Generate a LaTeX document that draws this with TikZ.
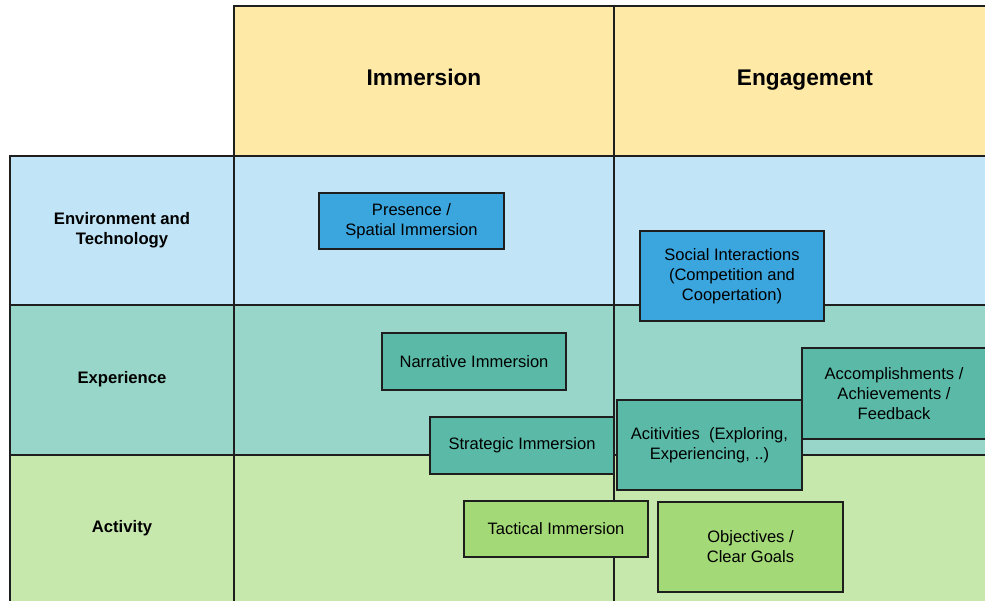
\documentclass[tikz,border=0pt]{standalone}
\usepackage{fontspec}
\setmainfont{Liberation Sans}
\definecolor{hdr}{HTML}{FFE9A6}
\definecolor{envc}{HTML}{C1E4F6}
\definecolor{expc}{HTML}{99D6CA}
\definecolor{actc}{HTML}{C7E8AC}
\definecolor{bblue}{HTML}{3BA5DD}
\definecolor{bteal}{HTML}{5ABAA7}
\definecolor{bgreen}{HTML}{A3D977}
\definecolor{ln}{HTML}{1E1E1E}
\tikzset{
  cell/.style={draw=ln, line width=1pt},
  thin cell/.style={draw=ln, line width=0.8pt},
  hdrtext/.style={font=\fontsize{17}{20}\selectfont\bfseries, text=black, anchor=base},
  rowtext/.style={font=\fontsize{12.5}{15}\selectfont\bfseries, align=center, text=black},
  box/.style={draw=ln, line width=1.4pt, align=center, inner sep=0pt,
    font=\fontsize{12.4}{15}\selectfont, text=black},
  bbox/.style={box, fill=bblue},
  tbox/.style={box, fill=bteal},
  gbox/.style={box, fill=bgreen},
}
\begin{document}
\begin{tikzpicture}[x=0.75pt,y=-0.75pt]
\useasboundingbox (0,0) rectangle (985,600);
\clip (0,0) rectangle (985,600);
% header
\path[cell, fill=hdr] (234,6) rectangle (614,156);
\path[cell, fill=hdr] (614,6) rectangle (1000,156);
\node[hdrtext] (himm) at (424,85) {Immersion};
\node[hdrtext] (heng) at (805,85) {Engagement};
% rows
\path[thin cell, fill=envc] (234,156) rectangle (614,305);
\path[thin cell, fill=envc] (614,156) rectangle (1000,305);
\path[cell, fill=envc] (10,156) rectangle (234,305);
\path[thin cell, fill=expc] (234,305) rectangle (614,455);
\path[thin cell, fill=expc] (614,305) rectangle (1000,455);
\path[cell, fill=expc] (10,305) rectangle (234,455);
\path[thin cell, fill=actc] (234,455) rectangle (614,610);
\path[thin cell, fill=actc] (614,455) rectangle (1000,610);
\path[cell, fill=actc] (10,455) rectangle (234,610);
\draw[cell] (10,305) -- (1000,305);
\draw[cell] (10,455) -- (1000,455);
\node[rowtext] (renv) at (122,230) {Environment and\\Technology};
\node[rowtext] (rexp) at (122,379) {Experience};
\node[rowtext] (ract) at (122,528) {Activity};
% boxes
\node[bbox, minimum width=138.75pt, minimum height=42pt] (pres) at (411.5,221) {Presence /\\Spatial Immersion};
\node[bbox, minimum width=138pt, minimum height=67.5pt] (soc) at (732,276) {Social Interactions\\(Competition and\\Coopertation)};
\node[tbox, minimum width=138pt, minimum height=42.75pt] (narr) at (474,361.5) {Narrative Immersion};
\node[tbox, minimum width=138pt, minimum height=42.75pt] (strat) at (522,445.5) {Strategic Immersion};
\node[tbox, minimum width=138pt, minimum height=68.25pt] (acc) at (894,393.5) {Accomplishments /\\Achievements /\\Feedback};
\node[tbox, minimum width=138.75pt, minimum height=67.5pt] (acti) at (709.5,445) {Acitivities\ \ (Exploring,\\Experiencing, ..)};
\node[gbox, minimum width=138pt, minimum height=42pt] (tact) at (556,529) {Tactical Immersion};
\node[gbox, minimum width=138.75pt, minimum height=67.5pt] (obj) at (750.5,547) {Objectives /\\Clear Goals};
\end{tikzpicture}
\end{document}
